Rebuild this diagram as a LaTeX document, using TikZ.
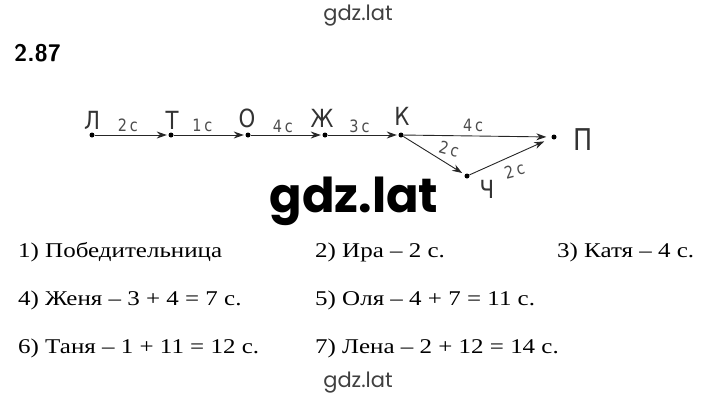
\documentclass[tikz,border=0pt]{standalone}
\usepackage{fontspec}
\setmainfont{Liberation Serif}[FakeStretch=1.19]
\newfontfamily\handfont{DejaVu Sans}[FakeStretch=0.85]
\newfontfamily\popfont{Poppins}
\usetikzlibrary{arrows.meta}
\begin{document}
\begin{tikzpicture}[x=1pt,y=-1pt,
  dot/.style={circle,fill=black,inner sep=0pt,minimum size=5pt},
  vlbl/.style={font=\handfont\fontsize{25}{25}\selectfont, text=black!80, inner sep=0pt},
  elbl/.style={font=\handfont\fontsize{17}{17}\selectfont, text=black!70, inner sep=0pt},
  arr/.style={-{Stealth[length=10pt,width=7pt]}, line width=0.9pt, shorten >=1.5pt, draw=black!85},
  ans/.style={anchor=base west, font=\fontsize{21}{21}\selectfont, inner sep=0pt},
  wm/.style={font=\popfont\fontsize{21}{21}\selectfont, text=black!75}]
\useasboundingbox (0,0) rectangle (720,405);
% watermarks and title
\node[wm] (wtop) at (358,16) {gdz.lat};
\node[wm] (wbot) at (358,383) {gdz.lat};
\node[font=\popfont\bfseries\fontsize{48}{48}\selectfont] (wbig) at (354,201) {gdz.lat};
\node[font=\sffamily\bfseries\fontsize{24}{24}\selectfont, anchor=west, inner sep=0pt] (num) at (14,53) {2.87};
% graph points
\node[dot] (L) at (92,135) {};
\node[dot] (T) at (171,135) {};
\node[dot] (O) at (248,135) {};
\node[dot] (Zh) at (325,135) {};
\node[dot] (K) at (401,135) {};
\node[dot] (P) at (554,137) {};
\node[dot] (Ch) at (467,176) {};
% point names
\node[vlbl] (lL) at (92,120) {Л};
\node[vlbl] (lT) at (172,120) {Т};
\node[vlbl] (lO) at (247,118) {О};
\node[vlbl] (lZh) at (322,118) {Ж};
\node[vlbl] (lK) at (402,116) {К};
\node[vlbl, font=\handfont\fontsize{30}{30}\selectfont] (lP) at (583,140) {П};
\node[vlbl] (lCh) at (487,189) {Ч};
% edges
\draw[arr] (L) -- node[elbl, pos=0.45, yshift=10pt] {2\,с} (T);
\draw[arr] (T) -- node[elbl, pos=0.4, yshift=10pt] {1\,с} (O);
\draw[arr] (O) -- node[elbl, pos=0.45, yshift=9pt] {4\,с} (Zh);
\draw[arr] (Zh) -- node[elbl, pos=0.45, yshift=9pt] {3\,с} (K);
\draw[arr, shorten >=5pt] (K) -- node[elbl, pos=0.47, yshift=11pt] {4\,с} (P.west);
\draw[arr, shorten >=3pt] (K) -- node[elbl, pos=0.68, xshift=4pt, yshift=13pt, rotate=-15] {2\,с} (Ch);
\draw[arr, shorten >=8pt] (Ch) -- node[elbl, pos=0.5, xshift=4pt, yshift=-14pt, rotate=15] {2\,с} (P);
% answers
\node[ans] (a1) at (18,257) {1) Победительница};
\node[ans] (a2) at (315,257) {2) Ира – 2 с.};
\node[ans] (a3) at (557,257) {3) Катя – 4 с.};
\node[ans] (a4) at (18,305) {4) Женя – 3 + 4 = 7 с.};
\node[ans] (a5) at (315,305) {5) Оля – 4 + 7 = 11 с.};
\node[ans] (a6) at (18,353) {6) Таня – 1 + 11 = 12 с.};
\node[ans] (a7) at (315,353) {7) Лена – 2 + 12 = 14 с.};
\end{tikzpicture}
\end{document}
